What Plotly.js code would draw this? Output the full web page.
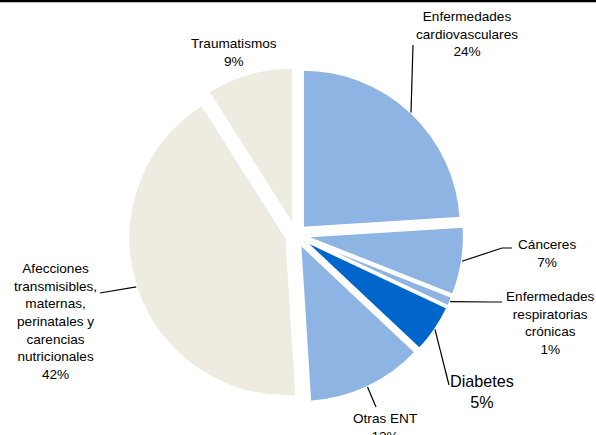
<!DOCTYPE html>
<html>
<head>
<meta charset="utf-8">
<script src="https://cdn.plot.ly/plotly-3.0.1.min.js"></script>
<style>html,body{margin:0;padding:0;background:#fff;}#chart{width:596px;height:435px;}</style>
</head>
<body>
<div id="chart"></div>
<script>
// ---- data ----
const categories = [
  "Enfermedades cardiovasculares",
  "Cánceres",
  "Enfermedades respiratorias crónicas",
  "Diabetes",
  "Otras ENT",
  "Afecciones transmisibles, maternas, perinatales y carencias nutricionales",
  "Traumatismos"
];
const values = [24, 7, 1, 5, 12, 42, 9];
const labelTexts = [
  "Enfermedades<br>cardiovasculares<br>24%",
  "Cánceres<br>7%",
  "Enfermedades<br>respiratorias<br>crónicas<br>1%",
  "Diabetes<br>5%",
  "Otras ENT<br>12%",
  "Afecciones<br>transmisibles,<br>maternas,<br>perinatales y<br>carencias<br>nutricionales<br>42%",
  "Traumatismos<br>9%"
];

// ---- styling / layout ----
const W = 596, H = 435;
const sliceColors = ["#8DB4E2", "#8DB4E2", "#8DB4E2", "#0066CC", "#8DB4E2", "#EEECE1", "#EEECE1"];
const PULL = 0.064;
const dom = {x0: 128, x1: 464, y0: 67, y1: 403}; // pixel box of pie
// label centers (px) and font sizes
const labelPos = [[467, 34], [547, 253], [550, 323], [482, 391], [385, 427], [55, 321], [234, 53]];
const labelSize = [13.6, 13.6, 13.6, 16.2, 13.6, 13.6, 13.6];
// leader line tail points (px), start is computed on slice arc
const leaderTail = [
  [[413, 45]],
  [[502, 248], [512, 248]],
  [[492, 302], [502, 302]],
  [[449, 385]],
  [[376, 407]],
  [[100, 293]],
  null
];

const px = x => x / W;
const py = y => 1 - y / H;

// pie geometry as Plotly computes it
const cx = (dom.x0 + dom.x1) / 2, cy = (dom.y0 + dom.y1) / 2;
const r = Math.min(dom.x1 - dom.x0, dom.y1 - dom.y0) / 2 / (1 + PULL);
const total = values.reduce((a, b) => a + b, 0);

const shapes = [{
  type: "line", xref: "paper", yref: "paper", x0: 0, x1: 1, y0: py(1), y1: py(1),
  line: {color: "#000", width: 2.5}
}];
const annotations = [];
let cum = 0;
values.forEach((v, i) => {
  const mid = (cum + v / 2) / total * 2 * Math.PI;
  cum += v;
  const dx = Math.sin(mid), dy = -Math.cos(mid);
  const sx = cx + dx * r * (1 + PULL), sy = cy + dy * r * (1 + PULL);
  if (leaderTail[i]) {
    let d = `M ${px(sx)} ${py(sy)}`;
    leaderTail[i].forEach(p => { d += ` L ${px(p[0])} ${py(p[1])}`; });
    shapes.push({type: "path", xref: "paper", yref: "paper", path: d, line: {color: "#000", width: 1.2}});
  }
  annotations.push({
    xref: "paper", yref: "paper", x: px(labelPos[i][0]), y: py(labelPos[i][1]),
    xanchor: "center", yanchor: "middle", align: "center", showarrow: false,
    text: labelTexts[i],
    font: {family: "Arial, 'Liberation Sans', sans-serif", size: labelSize[i], color: "#000"}
  });
});

const trace = {
  type: "pie",
  labels: categories,
  values: values,
  sort: false,
  direction: "clockwise",
  rotation: 0,
  pull: values.map(() => PULL),
  textinfo: "none",
  hoverinfo: "label+percent",
  marker: {colors: sliceColors, line: {color: "#fff", width: 2}},
  domain: {x: [px(dom.x0), px(dom.x1)], y: [py(dom.y1), py(dom.y0)]},
  showlegend: false
};

Plotly.newPlot("chart", [trace], {
  width: W, height: H,
  margin: {l: 0, r: 0, t: 0, b: 0},
  paper_bgcolor: "#fff",
  showlegend: false,
  shapes: shapes,
  annotations: annotations
}, {displayModeBar: false, staticPlot: true});
</script>
</body>
</html>
